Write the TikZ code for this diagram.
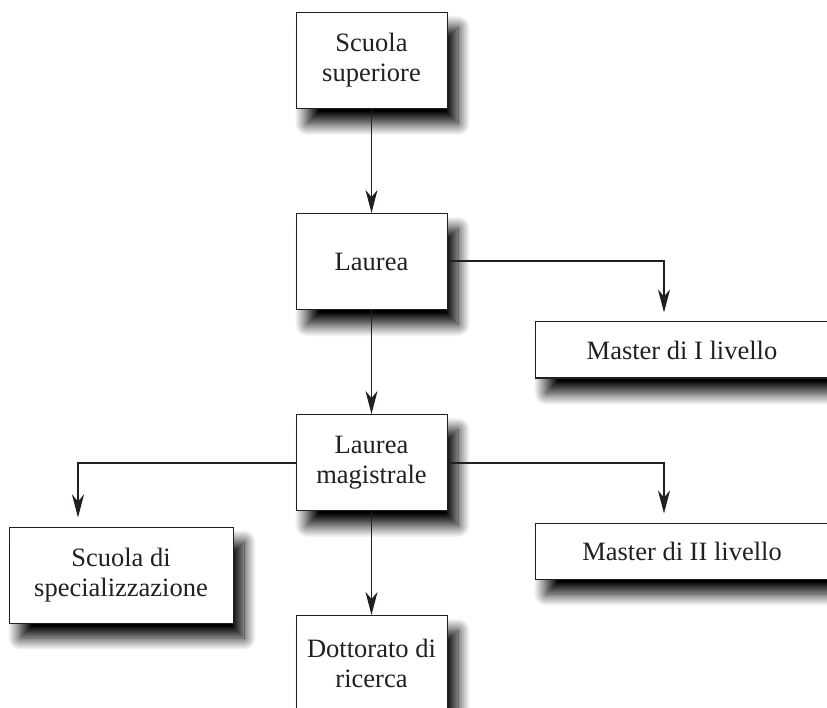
\documentclass[tikz,border=0pt]{standalone}
\usepackage{fontspec}
\setmainfont{Liberation Serif}
\usetikzlibrary{arrows.meta,shadows.blur}
\definecolor{ink}{HTML}{231F20}
\begin{document}
\begin{tikzpicture}[
  x=1pt, y=-1pt,
  box/.style={draw=ink, line width=1pt, fill=white, align=center, inner sep=0pt, minimum height=96pt, text=ink, font=\fontsize{26.5}{30}\selectfont, blur shadow={shadow xshift=11pt, shadow yshift=-15pt, shadow blur radius=12pt, shadow blur steps=20, shadow opacity=100}},
  core/.style={box, minimum width=151pt},
  wide/.style={box, minimum width=294pt, minimum height=56pt},
  link/.style={draw=ink, line width=1.2pt},
  elbow/.style={draw=ink, line width=2pt, shorten >=9pt},
  >={Stealth[length=23pt,width=12pt,inset=7pt]},
  node distance=201pt
]
\useasboundingbox (0,0) rectangle (827,708);
\node[core] (ss) at (371.5,60.5) {Scuola\\superiore};
\node[core, below of=ss] (la) {Laurea};
\node[core, below of=la] (lm) {Laurea\\magistrale};
\node[core, below of=lm] (dr) {Dottorato di\\ricerca};
\node[wide] (m1) at (682,350) {Master di I livello};
\node[wide] (m2) at (682,551) {Master di II livello};
\node[box, minimum width=224pt] (sp) at (121,575) {Scuola di\\specializzazione};
\draw[link,->] (ss) -- (la);
\draw[link,->] (la) -- (lm);
\draw[link,->] (lm) -- (dr);
\draw[elbow,->] (la.east) -| ([xshift=-18pt]m1.north);
\draw[elbow,->] (lm.east) -| ([xshift=-18pt]m2.north);
\draw[elbow,->] (lm.west) -| ([xshift=-43pt]sp.north);
\end{tikzpicture}
\end{document}
